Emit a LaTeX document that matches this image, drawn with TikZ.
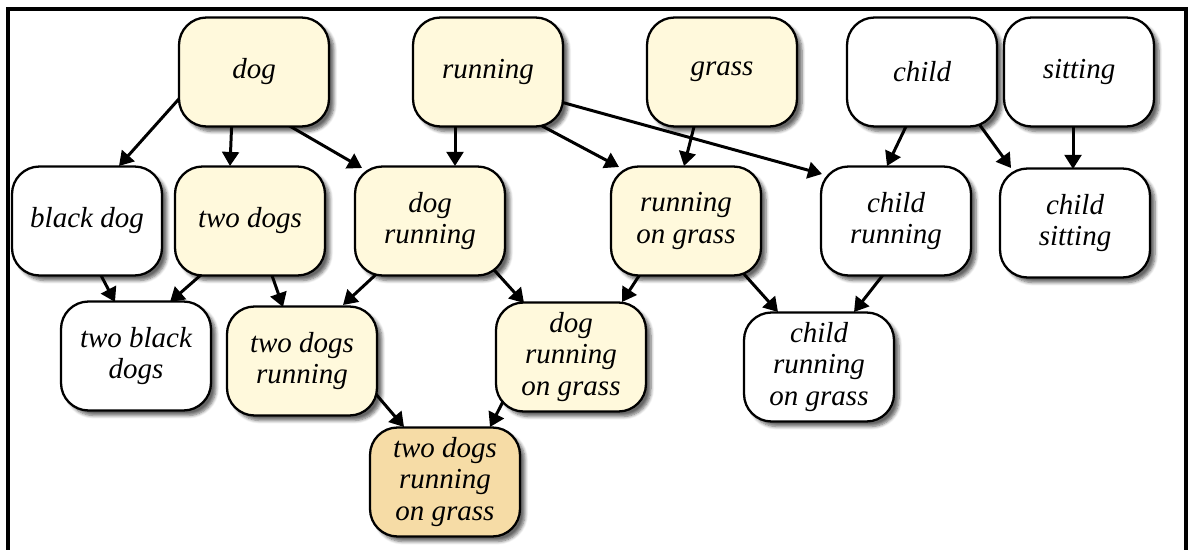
\documentclass[tikz,border=0pt]{standalone}
\usepackage{fontspec}
\setmainfont{Liberation Serif}
\usetikzlibrary{shapes,arrows.meta,positioning,shadows.blur}
\definecolor{cream}{HTML}{FFF9DC}
\definecolor{goldcream}{HTML}{F6DCA6}
\pgfdeclarelayer{background}
\pgfsetlayers{background,main}

\begin{document}
\begin{tikzpicture}[x=0.02cm,y=-0.02cm]
 \tikzset{main node/.style={rectangle, draw, line width=1.3pt, fill=white,
 		text centered, align=center, rounded corners=0.55cm,
 		minimum width=3cm, minimum height=2.18cm,
 		font=\fontsize{16.5}{18}\selectfont\itshape,
 		blur shadow={shadow xshift=0.1cm, shadow yshift=-0.1cm,
 		shadow blur steps=6, shadow opacity=60}}, }
 \tikzset{cream node/.style={main node, fill=cream}, }
 \tikzset{goal node/.style={main node, fill=goldcream}, }
 \tikzset{linea/.style={-{Triangle[length=8pt,width=9.5pt]}, line width=1.7pt},}
 \useasboundingbox (0,0) rectangle (1189,550);
 \draw[line width=1.8pt] (8,550) |- (1186,9) -- (1186,550);
 %% words
 \node[cream node] (dog) at (254,72) {dog};
 \node[cream node] (running) at (488,72) {running};
 \node[cream node] (grass) at (722,72) {grass};
 \node[main node] (child) at (922,72) {child};
 \node[main node] (sitting) at (1079,72) {sitting};
 %% pairs
 \node[main node] (blackdog) at (87,221) {black dog};
 \node[cream node] (twodogs) at (250,221) {two dogs};
 \node[cream node] (dogrun) at (430,221) {dog\\running};
 \node[cream node] (rungrass) at (686,221) {running\\on grass};
 \node[main node] (childrun) at (896,221) {child\\running};
 \node[main node] (childsit) at (1075,223) {child\\sitting};
 %% triples
 \node[main node] (twoblack) at (136,356) {two black\\dogs};
 \node[cream node] (twodogsrun) at (302,361) {two dogs\\running};
 \node[cream node] (dogrungrass) at (571,357) {dog\\running\\on grass};
 \node[main node] (childrungrass) at (819,367) {child\\running\\on grass};
 \node[goal node] (final) at (445,482) {two dogs\\running\\on grass};
 %% edges
 \begin{pgfonlayer}{background}
 \foreach \x/\sx/\y/\sy in{dog/{-68,19}/blackdog/{32,-55},
 	dog/{-22,44}/twodogs/{-20,-55},
 	dog/{27,49}/dogrun/{-68,-53},
 	running/{-33,44}/dogrun/{25,-55},
 	running/{41,47}/rungrass/{-67,-54},
 	running/{62,27}/childrun/{-74,-47},
 	grass/{-25,43}/rungrass/{-2,-55},
 	child/{-11,44}/childrun/{-9,-55},
 	child/{49,41}/childsit/{-64,-55},
 	sitting/{-6,43}/childsit/{-2,-54},
 	blackdog/{8,43}/twoblack/{-21,-54},
 	twodogs/{-40,46}/twoblack/{34,-54},
 	twodogs/{18,43}/twodogsrun/{-19,-54},
 	dogrun/{-46,46}/twodogsrun/{41,-56},
 	dogrun/{56,40}/dogrungrass/{-47,-54},
 	rungrass/{-40,44}/dogrungrass/{51,-55},
 	rungrass/{49,43}/childrungrass/{-41,-55},
 	childrun/{-6,45}/childrungrass/{35,-55},
 	twodogsrun/{67,25}/final/{-41,-55},
 	dogrungrass/{-58,25}/final/{45,-55}}
 \draw[linea] ([shift={(\sx)}]\x.center) -- ([shift={(\sy)}]\y.center);
 \end{pgfonlayer}
\end{tikzpicture}
\end{document}
